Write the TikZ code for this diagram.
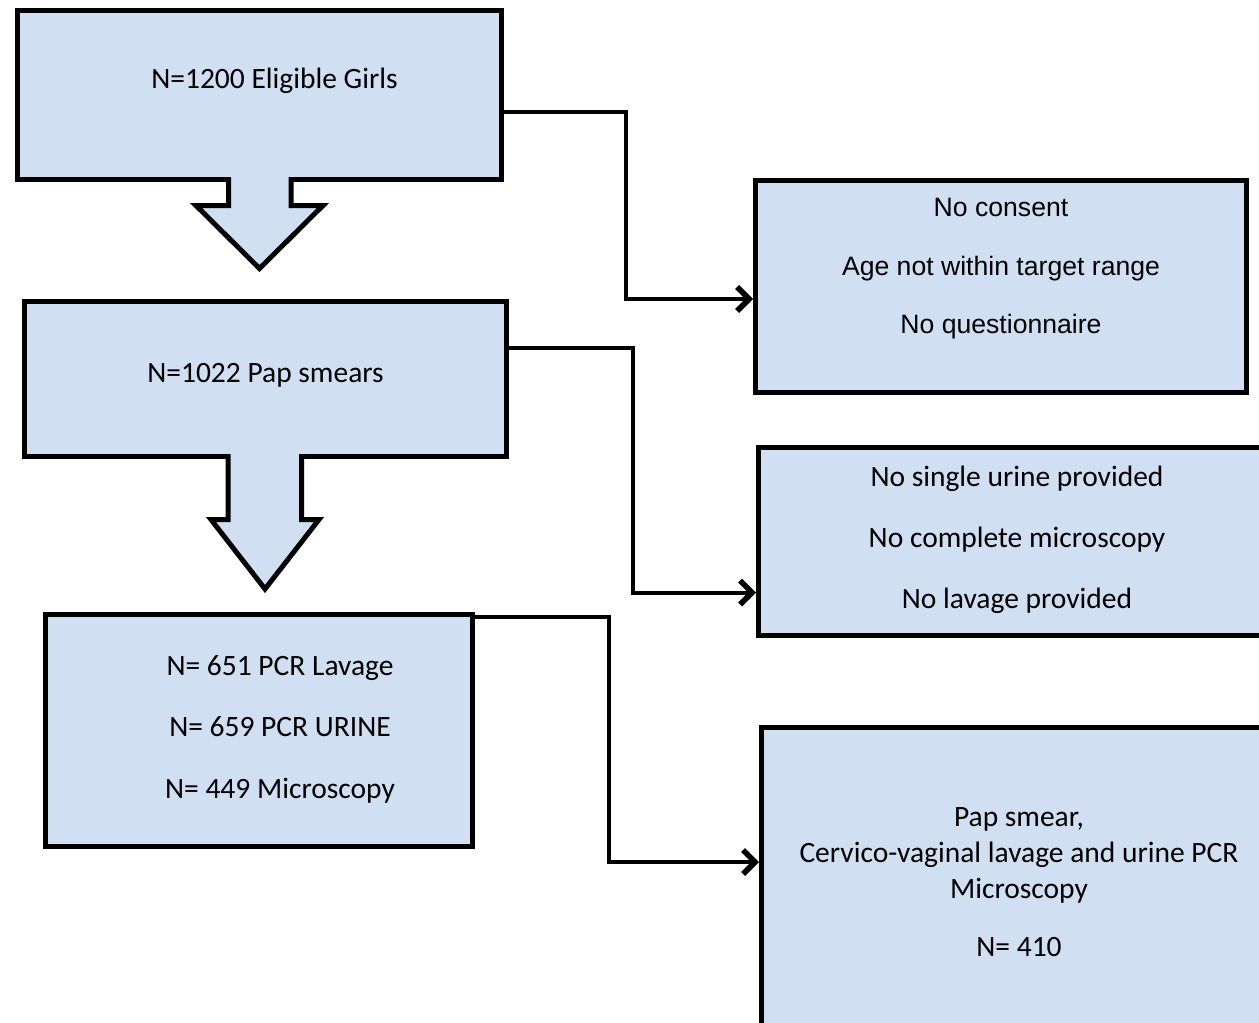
\documentclass[tikz,border=0pt]{standalone}
\usepackage{fontspec}
\setmainfont{Carlito}
\newfontfamily\arialfont{Liberation Sans}
\usetikzlibrary{arrows.meta}
\definecolor{boxblue}{RGB}{208,224,242}

\begin{document}
\begin{tikzpicture}[x=1pt,y=-1pt]

     \tikzstyle{box}=[rectangle,draw=black,line width=5pt,fill=boxblue,inner sep=0pt,outer sep=0pt]
     \tikzstyle{blockarrow}=[draw=black,line width=5pt,fill=boxblue,line join=miter]
     \tikzstyle{flow}=[line width=4pt,-{Straight Barb[length=12pt,width=24pt,line width=0pt 1.4]},shorten >=2pt]
     \tikzstyle{txt}=[anchor=base,inner sep=0pt,font=\fontsize{29.5}{35}\selectfont]
     \tikzstyle{atxt}=[anchor=base,inner sep=0pt,font=\arialfont\fontsize{26.6}{32}\selectfont]

      \clip (0,0) rectangle (1259,1023);

      \begin{scope}
         % left column
         \node[box,minimum width=483.5pt,minimum height=169pt] (box1) at (259.25,95) {};
         \draw[blockarrow] (228.5,177) -- (228.5,205.5) -- (196,205.5) -- (259.5,268.5)
                           -- (323,205.5) -- (291,205.5) -- (291,177);

         \node[box,minimum width=482pt,minimum height=155pt] (box2) at (265,378.5) {};
         \draw[blockarrow] (228,454) -- (228,519.5) -- (211,519.5) -- (265,589)
                           -- (319,519.5) -- (301.5,519.5) -- (301.5,454);

         \node[box,minimum width=427pt,minimum height=232pt] (box3) at (259,730.5) {};

         % right column
         \node[box,minimum width=491pt,minimum height=211.5pt] (boxA) at (1000.5,286.25) {};
         \node[box,minimum width=512pt,minimum height=188pt] (boxB) at (1014,541.5) {};
         \node[box,minimum width=509pt,minimum height=303pt] (boxC) at (1015.5,878.5) {};

         % texts
         \node[txt] (t1) at (274.5,88) {N=1200 Eligible Girls};
         \node[txt] (t2) at (265.5,382) {N=1022 Pap smears};

         \node[txt] (t31) at (280,675) {N= 651 PCR Lavage};
         \node[txt] (t32) at (280,736) {N= 659 PCR URINE};
         \node[txt] (t33) at (280,798) {N= 449 Microscopy};

         \node[atxt] (tA1) at (1001,216.5) {No consent};
         \node[atxt] (tA2) at (1001,275) {Age not within target range};
         \node[atxt] (tA3) at (1001,333) {No questionnaire};

         \node[txt] (tB1) at (1017,486) {No single urine provided};
         \node[txt] (tB2) at (1017,547) {No complete microscopy};
         \node[txt] (tB3) at (1017,608) {No lavage provided};

         \node[txt] (tC1) at (1019,826.5) {Pap smear,};
         \node[txt] (tC2) at (1019,862.5) {Cervico-vaginal lavage and urine PCR};
         \node[txt] (tC3) at (1019,898) {Microscopy};
         \node[txt] (tC4) at (1019,956.5) {N= 410};

         % connectors
         \coordinate (k1) at (626,112);
         \coordinate (k2) at (626,299);
         \draw[flow] (box1.east |- k1) -- (k1) -- (k2) -- (boxA.west |- k2);

         \coordinate (k3) at (633,348);
         \coordinate (k4) at (633,592.5);
         \draw[flow] (box2.east |- k3) -- (k3) -- (k4) -- (boxB.west |- k4);

         \coordinate (k5) at (609,617);
         \coordinate (k6) at (609,862);
         \draw[flow] (box3.north east |- k5) -- (k5) -- (k6) -- (boxC.west |- k6);

      \end{scope}
  \end{tikzpicture}
\end{document}
